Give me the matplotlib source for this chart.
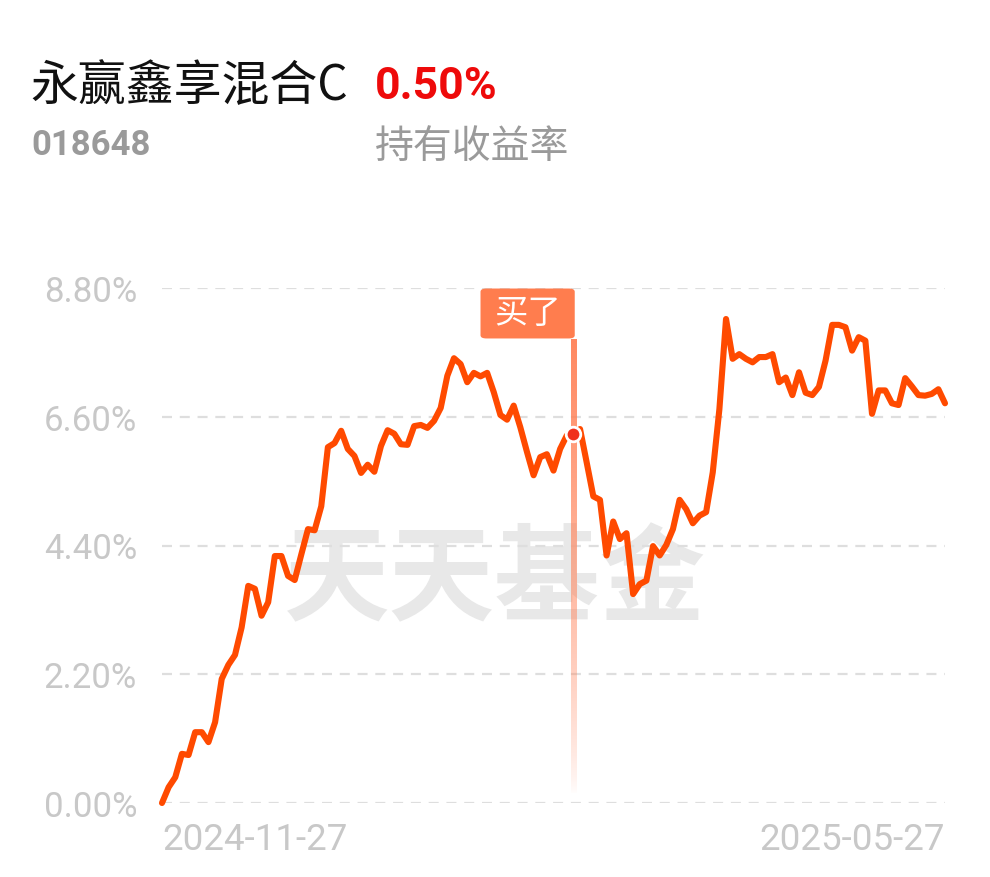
import numpy as np
import matplotlib
matplotlib.use('Agg')
import matplotlib.pyplot as plt
from matplotlib.patches import FancyBboxPatch
import matplotlib.transforms as mtransforms

# cumulative return (%) per trading day
returns = [0.00, 0.27, 0.44, 0.84, 0.82, 1.21, 1.21, 1.04, 1.38, 2.12,
           2.36, 2.53, 3.00, 3.71, 3.66, 3.20, 3.43, 4.22, 4.22, 3.88,
           3.81, 4.25, 4.68, 4.66, 5.07, 6.08, 6.15, 6.36, 6.05, 5.93,
           5.64, 5.78, 5.66, 6.10, 6.37, 6.31, 6.13, 6.12, 6.44, 6.46,
           6.41, 6.53, 6.75, 7.30, 7.60, 7.50, 7.19, 7.35, 7.29, 7.35,
           7.02, 6.63, 6.55, 6.79, 6.42, 6.00, 5.60, 5.91, 5.96, 5.68,
           6.05, 6.28, 6.30, 6.39, 5.82, 5.24, 5.18, 4.23, 4.81, 4.51,
           4.61, 3.57, 3.74, 3.80, 4.39, 4.23, 4.41, 4.68, 5.18, 5.02,
           4.78, 4.91, 4.97, 5.65, 6.73, 8.27, 7.59, 7.67, 7.59, 7.53,
           7.62, 7.62, 7.67, 7.19, 7.27, 6.97, 7.36, 7.01, 6.97, 7.11,
           7.56, 8.17, 8.17, 8.13, 7.73, 7.96, 7.90, 6.65, 7.05, 7.05,
           6.83, 6.80, 7.26, 7.12, 6.97, 6.96, 6.99, 7.07, 6.83]
date_labels = ['2024-11-27', '2025-05-27']
y_ticks = [0.0, 2.2, 4.4, 6.6, 8.8]
buy_idx = 62

fund_name = '永赢鑫享混合C'
fund_code = '018648'
hold_return = '0.50%'

W, H = 990, 878
fig = plt.figure(figsize=(W / 100, H / 100), dpi=100)
fig.patch.set_facecolor('white')

def fx(px):
    return px / W

def fy(py):
    return 1 - py / H

# header
fig.text(fx(30), fy(86), fund_name, fontsize=34.5, color='#111111',
         family=['Noto Sans CJK SC', 'DejaVu Sans'], va='center', ha='left')
fig.text(fx(375), fy(87), hold_return, fontsize=32, color='#ee0a0a',
         family=['Roboto'], weight='bold', va='center', ha='left')
fig.text(fx(31), fy(146), fund_code, fontsize=25, color='#9a9a9a',
         family=['Roboto'], weight='bold', va='center', ha='left')
fig.text(fx(375), fy(147), '持有收益率', fontsize=28, color='#9a9a9a',
         family=['Noto Sans CJK SC', 'DejaVu Sans'], va='center', ha='left')

ax = fig.add_axes([fx(162), 74 / H, 783 / W, 515 / H])
x = np.arange(len(returns))

# watermark
ax.text(0.425, 0.43, '天天基金', transform=ax.transAxes, fontsize=76,
        color='#e8e8e8', family=['Noto Sans CJK SC'], weight='black',
        ha='center', va='center', zorder=0)

for t in y_ticks:
    ax.axhline(t, color='#dedede', lw=1.6, ls=(0, (4.5, 3.5)), zorder=1)

# fading vertical marker for the purchase day
trans = mtransforms.blended_transform_factory(ax.transData, ax.transAxes)
grad = np.zeros((200, 1, 4))
grad[..., 0], grad[..., 1], grad[..., 2] = 1.0, 0.5, 0.33
grad[:, 0, 3] = np.linspace(0.9, 0.0, 200) ** 0.7
ax.imshow(grad, aspect='auto', extent=(buy_idx - 0.42, buy_idx + 0.42, 0.015, 0.9),
          transform=trans, zorder=2, interpolation='bilinear')

ax.plot(x, returns, color='#ff4a00', lw=4.4, solid_joinstyle='round',
        solid_capstyle='round', zorder=3, clip_on=False)
ax.plot(buy_idx, returns[buy_idx], 'o', ms=10.5, mfc='#f0301c', mec='white',
        mew=2, zorder=4)

# "买了" tag
tag = FancyBboxPatch((buy_idx - 14.0, 0.902), 14.2, 0.097,
                     boxstyle='round,pad=0,rounding_size=0.9',
                     transform=trans, fc='#ff7d4e', ec='none', zorder=5,
                     mutation_aspect=0.0068)
ax.add_patch(tag)
ax.text(buy_idx - 6.9, 0.952, '买了', transform=trans, fontsize=24, color='white',
        family=['Noto Sans CJK SC'], ha='center', va='center', zorder=6)

ax.set_xlim(0, len(returns) - 1)
ax.set_ylim(0, 8.8)
ax.set_yticks(y_ticks)
ax.set_yticklabels(['%.2f%%' % t for t in y_ticks])
ax.set_xticks([0, len(returns) - 1])
ax.set_xticklabels(date_labels)
labs = ax.get_xticklabels()
labs[0].set_ha('left')
labs[1].set_ha('right')
ax.tick_params(axis='both', length=0, labelsize=25, labelcolor='#c8c8c8')
ax.tick_params(axis='x', labelsize=26.5, pad=13)
ax.tick_params(axis='y', pad=18)
for lab in ax.get_xticklabels() + ax.get_yticklabels():
    lab.set_family(['Roboto', 'DejaVu Sans'])
for s in ax.spines.values():
    s.set_visible(False)
ax.set_facecolor('none')

fig.savefig('out.png', dpi=100, facecolor='white')
